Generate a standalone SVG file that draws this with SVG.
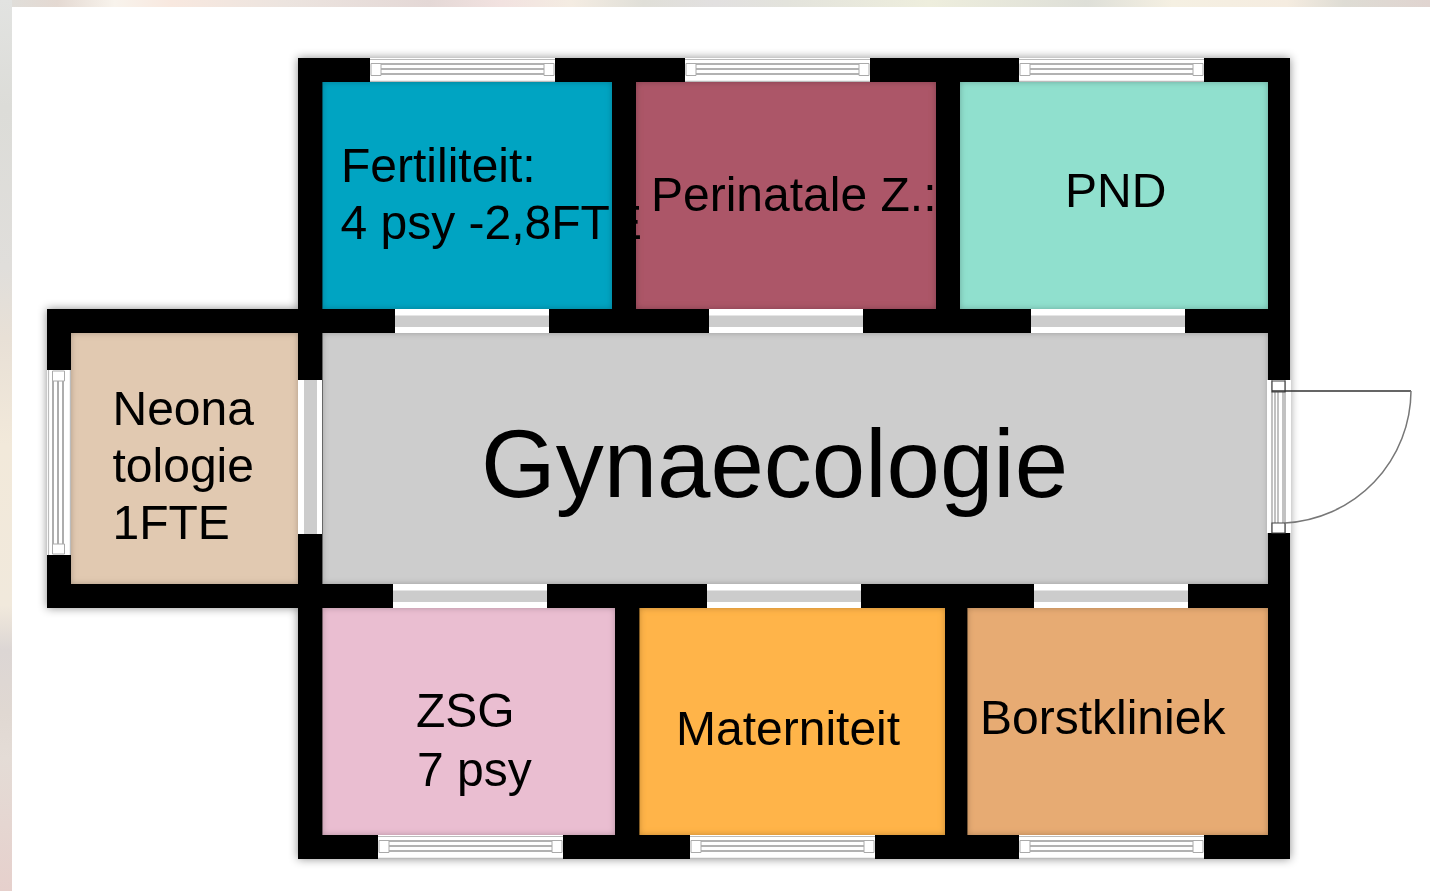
<svg xmlns="http://www.w3.org/2000/svg" xmlns:xlink="http://www.w3.org/1999/xlink" width="1430" height="891" viewBox="0 0 1430 891">
<style>
text{font-family:"Liberation Sans",Arial,sans-serif;fill:#000;font-size:48px}
.room{filter:url(#inset)}
.gap{fill:#fff}
.mid{fill:#ccc}
.fr{fill:none;stroke:#bbb;stroke-width:1.2}
.fd{fill:none;stroke:#999;stroke-width:1.6}
.sq{fill:#fff;stroke:#aaa;stroke-width:1}
</style>
<defs>
<linearGradient id="bgTop" x1="0" x2="1" y1="0" y2="0">
<stop offset="0" stop-color="#dfdfdb"/><stop offset=".04" stop-color="#e4d9d2"/><stop offset=".08" stop-color="#f8f3ec"/><stop offset=".12" stop-color="#f8e8df"/><stop offset=".2" stop-color="#ece4df"/><stop offset=".3" stop-color="#e4d8d6"/><stop offset=".35" stop-color="#f2e2e0"/><stop offset=".4" stop-color="#f4ece2"/><stop offset=".45" stop-color="#e0dfd8"/><stop offset=".5" stop-color="#e2e0e0"/><stop offset=".55" stop-color="#e3e3dc"/><stop offset=".65" stop-color="#eeeedd"/><stop offset=".76" stop-color="#dedfd8"/><stop offset=".82" stop-color="#f5f0e2"/><stop offset=".9" stop-color="#f5ece0"/><stop offset=".94" stop-color="#dedcd4"/><stop offset="1" stop-color="#e0d4d0"/>
</linearGradient>
<linearGradient id="bgLeft" x1="0" x2="0" y1="0" y2="1">
<stop offset="0" stop-color="#e2e3e1"/><stop offset=".12" stop-color="#dcdcd8"/><stop offset=".3" stop-color="#e0dedb"/><stop offset=".38" stop-color="#e8e0d6"/><stop offset=".5" stop-color="#f2e9da"/><stop offset=".68" stop-color="#f1e9dc"/><stop offset=".73" stop-color="#dcd6d4"/><stop offset=".8" stop-color="#e0d8d2"/><stop offset=".85" stop-color="#e4dcd6"/><stop offset="1" stop-color="#e6d0cc"/>
</linearGradient>
<filter id="inset" x="-5%" y="-5%" width="110%" height="110%">
<feFlood flood-color="#000" flood-opacity=".5"/>
<feComposite in2="SourceAlpha" operator="out"/>
<feGaussianBlur stdDeviation="3"/>
<feComposite in2="SourceAlpha" operator="in" result="s"/>
<feMerge><feMergeNode in="SourceGraphic"/><feMergeNode in="s"/></feMerge>
</filter>
<filter id="outer" x="-5%" y="-5%" width="110%" height="110%">
<feDropShadow dx="0" dy="0" stdDeviation="5" flood-color="#000" flood-opacity=".45"/>
</filter>
<filter id="soft" x="-5%" y="-5%" width="110%" height="110%">
<feGaussianBlur stdDeviation=".6"/>
</filter>
<g id="winH">
<rect class="gap" x="0" y="0" width="185" height="24"/>
<path class="fr" d="M0 1.500H185M0 23.400H185"/>
<path class="fd" d="M11 6H174M11 11H174M11 16H174"/>
<path class="sq" d="M1 5.500H11V17.500H1ZM174 5.500H184V17.500H174Z"/>
</g>
<g id="winV">
<rect class="gap" x="0" y="0" width="24" height="185"/>
<path class="fr" d="M1.500 0V185M23.400 0V185"/>
<path class="fd" d="M6 11V174M11 11V174M16 11V174"/>
<path class="sq" d="M5.500 1V11H17.500V1ZM5.500 174V184H17.500V174Z"/>
</g>
<g id="gapH">
<rect class="gap" x="0" y="0" width="154" height="24"/>
<rect class="mid" x="0" y="6.500" width="154" height="11.500"/>
</g>
<g id="gapV">
<rect class="gap" x="0" y="0" width="24" height="154"/>
<rect class="mid" x="6" y="0" width="13" height="154"/>
</g>
</defs>

<rect id="background" width="1430" height="891" fill="#fff"/>
<rect x="0" y="0" width="1430" height="7" fill="url(#bgTop)"/>
<rect x="0" y="0" width="12" height="891" fill="url(#bgLeft)"/>

<path id="walls" filter="url(#outer)" fill="#000" d="M298 58H1290V859H298V608H47V309H298Z"/>

<g id="room-fertiliteit"><rect class="room" x="322.500" y="82" width="289.500" height="227" fill="#00a4c2"/></g>
<g id="room-perinatale"><rect class="room" x="636" y="82" width="300" height="227" fill="#ac5667"/></g>
<g id="room-pnd"><rect class="room" x="960" y="82" width="308" height="227" fill="#90e0ce"/></g>
<g id="room-gynaecologie"><rect class="room" x="322.500" y="333" width="945.500" height="251" fill="#cdcdcd"/></g>
<g id="room-neonatologie"><rect class="room" x="71" y="333" width="227" height="251" fill="#e1c9b1"/></g>
<g id="room-zsg"><rect class="room" x="322.500" y="608" width="292.500" height="227" fill="#eabed1"/></g>
<g id="room-materniteit"><rect class="room" x="639.500" y="608" width="305.500" height="227" fill="#ffb448"/></g>
<g id="room-borstkliniek"><rect class="room" x="967.500" y="608" width="300.500" height="227" fill="#e7ab73"/></g>

<g id="windows" filter="url(#soft)">
<use xlink:href="#winH" href="#winH" x="370" y="58"/>
<use xlink:href="#winH" href="#winH" x="685" y="58"/>
<use xlink:href="#winH" href="#winH" x="1019" y="58"/>
<use xlink:href="#winH" href="#winH" x="378" y="835"/>
<use xlink:href="#winH" href="#winH" x="690" y="835"/>
<use xlink:href="#winH" href="#winH" x="1019" y="835"/>
<use xlink:href="#winV" href="#winV" x="47" y="370"/>
</g>
<g id="door-openings" filter="url(#soft)">
<use xlink:href="#gapH" href="#gapH" x="395" y="309"/>
<use xlink:href="#gapH" href="#gapH" x="709" y="309"/>
<use xlink:href="#gapH" href="#gapH" x="1031" y="309"/>
<use xlink:href="#gapH" href="#gapH" x="393" y="584"/>
<use xlink:href="#gapH" href="#gapH" x="707" y="584"/>
<use xlink:href="#gapH" href="#gapH" x="1034" y="584"/>
<use xlink:href="#gapV" href="#gapV" x="298" y="380"/>
</g>
<g id="entrance" filter="url(#soft)">
<rect class="gap" x="1267" y="380" width="24" height="153"/>
<path fill="none" stroke="#999" stroke-width="1.2" d="M1272 380V533M1285 380V533M1275 392V523M1278 392V523M1283 392V523"/>
<path fill="#fff" stroke="#444" stroke-width="1.2" d="M1272 381H1285V392H1272ZM1272 523H1285V533H1272Z"/>
<path fill="none" stroke="#333" stroke-width="1.5" d="M1272 391H1411"/>
<path fill="none" stroke="#777" stroke-width="1.5" d="M1411 391A133 133 0 0 1 1285 523"/>
</g>

<g id="labels">
<text x="341" y="182">Fertiliteit:</text>
<text x="340.500" y="239">4 psy -2,8FTE</text>
<text x="651" y="211">Perinatale Z.:</text>
<text x="1065" y="207">PND</text>
<text x="112.500" y="425">Neona</text>
<text x="112.500" y="482">tologie</text>
<text x="112.500" y="539">1FTE</text>
<text x="481" y="497" style="font-size:96px">Gynaecologie</text>
<text x="416" y="727">ZSG</text>
<text x="417" y="786">7 psy</text>
<text x="676" y="745">Materniteit</text>
<text x="980" y="734">Borstkliniek</text>
</g>
</svg>
